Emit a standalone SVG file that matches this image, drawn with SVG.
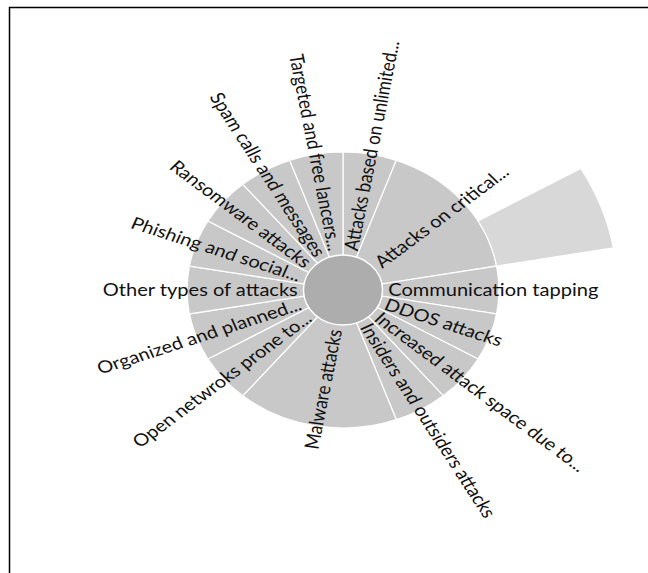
<svg xmlns="http://www.w3.org/2000/svg" width="648" height="573" viewBox="0 0 648 573">
<style>
.w{fill:#c8c8c8;stroke:#ffffff;stroke-width:1.2;vector-effect:non-scaling-stroke}
.x{fill:#d8d8d8;stroke:#ffffff;stroke-width:1.2;vector-effect:non-scaling-stroke}
.c{fill:#adadad;stroke:#ffffff;stroke-width:1.5;vector-effect:non-scaling-stroke}
.l{font-family:Lato,"Open Sans",sans-serif;font-size:17px;fill:#111111}
.e{text-anchor:end}
</style>
<rect width="648" height="573" fill="#ffffff"/>
<path d="M9.5,573 V7.5 H648" fill="none" stroke="#000000" stroke-width="1.5"/>
<g id="wedges" transform="translate(343,290) scale(1.13,1)">
<g id="attacks-based"><path class="w" d="M0,0 L0,-138 A138,138 0 0,1 47.2,-129.68 Z"/></g>
<g id="attacks-critical"><path class="w" d="M0,0 L47.2,-129.68 A138,138 0 0,1 135.9,-23.96 Z"/><path class="x" d="M119.51,-69 L210.44,-121.5 A243,243 0 0,1 239.31,-42.2 L135.9,-23.96 A138,138 0 0,0 119.51,-69 Z"/></g>
<g id="communication"><path class="w" d="M0,0 L135.9,-23.96 A138,138 0 0,1 135.9,23.96 Z"/></g>
<g id="ddos"><path class="w" d="M0,0 L135.9,23.96 A138,138 0 0,1 119.51,69 Z"/></g>
<g id="increased"><path class="w" d="M0,0 L119.51,69 A138,138 0 0,1 88.7,105.71 Z"/></g>
<g id="insiders"><path class="w" d="M0,0 L88.7,105.71 A138,138 0 0,1 47.2,129.68 Z"/></g>
<g id="malware"><path class="w" d="M0,0 L47.2,129.68 A138,138 0 0,1 -88.7,105.71 Z"/></g>
<g id="open-networks"><path class="w" d="M0,0 L-88.7,105.71 A138,138 0 0,1 -119.51,69 Z"/></g>
<g id="organized"><path class="w" d="M0,0 L-119.51,69 A138,138 0 0,1 -135.9,23.96 Z"/></g>
<g id="other"><path class="w" d="M0,0 L-135.9,23.96 A138,138 0 0,1 -135.9,-23.96 Z"/></g>
<g id="phishing"><path class="w" d="M0,0 L-135.9,-23.96 A138,138 0 0,1 -119.51,-69 Z"/></g>
<g id="ransomware"><path class="w" d="M0,0 L-119.51,-69 A138,138 0 0,1 -88.7,-105.71 Z"/></g>
<g id="spam"><path class="w" d="M0,0 L-88.7,-105.71 A138,138 0 0,1 -47.2,-129.68 Z"/></g>
<g id="targeted"><path class="w" d="M0,0 L-47.2,-129.68 A138,138 0 0,1 0,-138 Z"/></g>
<g id="center"><circle class="c" cx="0" cy="0" r="35"/></g>
</g>
<g id="labels" transform="translate(343,290) scale(1.18,1)">
<text class="l" transform="translate(6.65,-39.39) rotate(-80.42)" dy="0.35em">Attacks based on unlimited...</text>
<text class="l" transform="translate(29.34,-25.71) rotate(-41.22)" dy="0.35em">Attacks on critical...</text>
<text class="l" transform="translate(38.31,0)" dy="0.35em">Communication tapping</text>
<text class="l" transform="translate(35.99,13.68) rotate(20.81)" dy="0.35em">DDOS attacks</text>
<text class="l" transform="translate(29.34,25.71) rotate(41.22)" dy="0.35em">Increased attack space due to...</text>
<text class="l" transform="translate(19.15,34.64) rotate(61.06)" dy="0.35em">Insiders and outsiders attacks</text>
<text class="l e" transform="translate(-6.65,39.39) rotate(-80.42)" dy="0.35em">Malware attacks</text>
<text class="l e" transform="translate(-29.34,25.71) rotate(-41.22)" dy="0.35em">Open netwroks prone to...</text>
<text class="l e" transform="translate(-35.99,13.68) rotate(-20.81)" dy="0.35em">Organized and planned...</text>
<text class="l e" transform="translate(-38.31,0)" dy="0.35em">Other types of attacks</text>
<text class="l e" transform="translate(-35.99,-13.68) rotate(20.81)" dy="0.35em">Phishing and social...</text>
<text class="l e" transform="translate(-29.34,-25.71) rotate(41.22)" dy="0.35em">Ransomware attacks</text>
<text class="l e" transform="translate(-19.15,-34.64) rotate(61.06)" dy="0.35em">Spam calls and messages</text>
<text class="l e" transform="translate(-6.65,-39.39) rotate(80.42)" dy="0.35em">Targeted and free lancers...</text>
</g>
<g id="connectors"/>
</svg>
